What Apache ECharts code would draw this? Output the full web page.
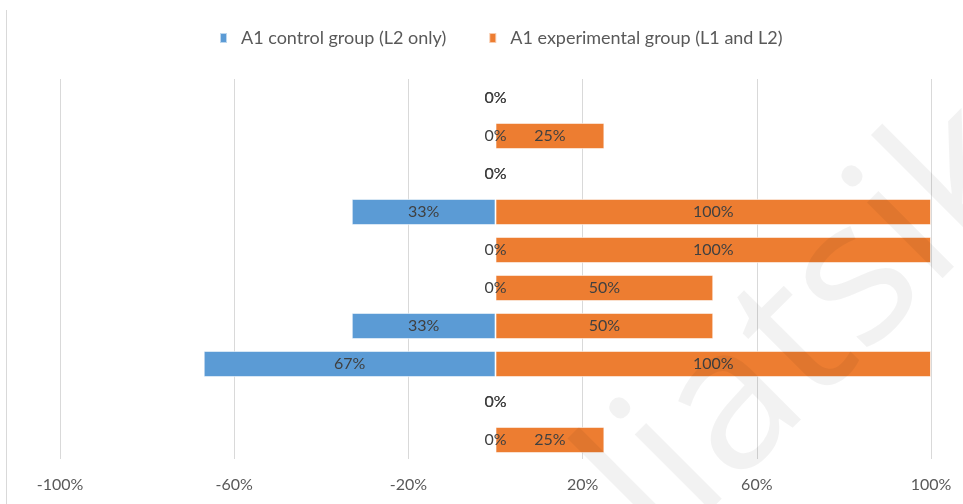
<!DOCTYPE html>
<html lang="en">
<head>
  <meta charset="UTF-8">
  <title>A1 control vs experimental group</title>
  <script src="https://cdn.jsdelivr.net/npm/echarts@6/dist/echarts.min.js"></script>
  <style>
    * { margin: 0; padding: 0; box-sizing: border-box; }
    body { background: #fff; }
    #chart { width: 963px; height: 504px; }
  </style>
</head>
<body>
  <div id="chart"></div>
  <script>
    // rows, top to bottom (the picture shows no category labels)
    var categories = ['1', '2', '3', '4', '5', '6', '7', '8', '9', '10'];
    // control group drawn to the left, so values are negative
    var controlValues = [0, 0, 0, -33, 0, 0, -33, -67, 0, 0];
    var experimentalValues = [0, 25, 0, 100, 100, 50, 50, 100, 0, 25];
    var seriesNames = ['A1 control group (L2 only)', 'A1 experimental group (L1 and L2)'];
    var tickLabels = [-100, -60, -20, 20, 60, 100];

    var FONT = 'Lato, "Open Sans", sans-serif';

    var chartDom = document.getElementById('chart');
    var myChart = echarts.init(chartDom);

    var labelStyle = {
      show: true,
      position: 'inside',
      color: '#404040',
      fontSize: 16,
      fontFamily: FONT,
      formatter: function (p) { return Math.abs(p.value) + '%'; }
    };

    var option = {
      animation: false,
      textStyle: { fontFamily: FONT },
      legend: {
        top: 24,
        left: 214,
        itemWidth: 7,
        itemHeight: 10,
        itemGap: 42,
        icon: 'rect',
        textStyle: { color: '#595959', fontSize: 18, fontFamily: FONT, padding: [0, 0, 0, 9] },
        data: seriesNames
      },
      grid: { left: 60, right: 32, top: 79, bottom: 45 },
      xAxis: {
        type: 'value',
        min: tickLabels[0],
        max: tickLabels[tickLabels.length - 1],
        interval: 40,
        axisLine: { show: false },
        axisTick: { show: false },
        splitLine: { lineStyle: { color: '#d9d9d9', width: 1 } },
        axisLabel: {
          color: '#595959',
          fontSize: 16,
          margin: 18,
          formatter: function (v) { return v + '%'; }
        }
      },
      yAxis: {
        type: 'category',
        inverse: true,
        data: categories,
        axisLine: { show: false },
        axisTick: { show: false },
        axisLabel: { show: false }
      },
      series: [
        {
          name: seriesNames[0],
          type: 'bar',
          z: 3,
          barGap: '-100%',
          barCategoryGap: '31%',
          data: controlValues,
          itemStyle: { color: '#5b9bd5', borderColor: 'rgba(255,255,255,0.6)', borderWidth: 1 },
          label: labelStyle
        },
        {
          name: seriesNames[1],
          type: 'bar',
          z: 2,
          barGap: '-100%',
          barCategoryGap: '31%',
          data: experimentalValues,
          itemStyle: { color: '#ed7d31', borderColor: 'rgba(255,255,255,0.6)', borderWidth: 1 },
          label: labelStyle
        }
      ],
      graphic: [
        {
          type: 'line',
          shape: { x1: 6.5, y1: 10, x2: 6.5, y2: 504 },
          style: { stroke: '#d9d9d9', lineWidth: 1 }
        },
        {
          // faint diagonal watermark
          type: 'text',
          x: 768,
          y: 372,
          rotation: Math.PI / 4,
          z: 100,
          style: {
            text: 'pliatsik',
            font: '200px "Open Sans", sans-serif',
            fill: 'rgba(0,0,0,0.05)',
            align: 'center',
            verticalAlign: 'middle'
          }
        }
      ]
    };

    myChart.setOption(option);
  </script>
</body>
</html>
